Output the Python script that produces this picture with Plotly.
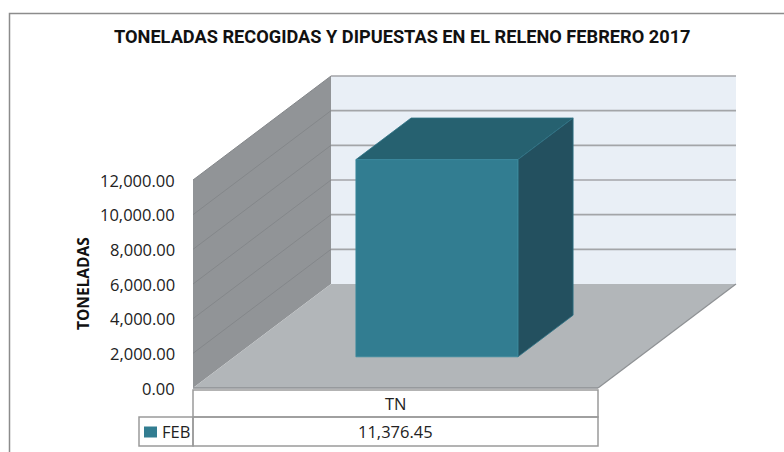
import plotly.graph_objects as go

# ---------------- data ----------------
categories = ["TN"]
series_name = "FEB"
values = [11376.45]
y_ticks = [0, 2000, 4000, 6000, 8000, 10000, 12000]
y_tick_labels = ["0.00", "2,000.00", "4,000.00", "6,000.00", "8,000.00", "10,000.00", "12,000.00"]
title_text = "TONELADAS RECOGIDAS Y DIPUESTAS EN EL RELENO FEBRERO 2017"
y_title = "TONELADAS"
value_labels = ["11,376.45"]

# ---------------- layout constants ----------------
W, H = 784, 452
X0_PX, PX_PER_CAT = 193, 405          # front-left floor corner, width of one category
Y0_PX, PX_PER_12K = 388, 208          # front zero line, height of 12000
VMAX = 12000
DEPTH_X = 138 / PX_PER_CAT            # oblique offset (in category units) for full depth
DEPTH_Y = 104 / PX_PER_12K * VMAX     # oblique offset (in value units) for full depth

ncat = len(categories)

def proj(u, v, d):
    return u + d * DEPTH_X, v + d * DEPTH_Y

xr = [-X0_PX / PX_PER_CAT, (W - X0_PX) / PX_PER_CAT]
yr = [-(H - Y0_PX) / PX_PER_12K * VMAX, Y0_PX / PX_PER_12K * VMAX]

fig = go.Figure()

def poly(pts, fill, line_color=None, lw=0):
    xs = [p[0] for p in pts] + [pts[0][0]]
    ys = [p[1] for p in pts] + [pts[0][1]]
    fig.add_trace(go.Scatter(x=xs, y=ys, mode="lines", fill="toself", fillcolor=fill,
                             line=dict(color=line_color or fill, width=lw),
                             hoverinfo="skip", showlegend=False))

def seg(a, b, color, lw=1):
    fig.add_trace(go.Scatter(x=[a[0], b[0]], y=[a[1], b[1]], mode="lines",
                             line=dict(color=color, width=lw), hoverinfo="skip", showlegend=False))

top = max(y_ticks)
# back wall
poly([proj(0, 0, 1), proj(ncat, 0, 1), proj(ncat, top, 1), proj(0, top, 1)], "#E9EFF6")
# left wall
poly([proj(0, 0, 0), proj(0, 0, 1), proj(0, top, 1), proj(0, top, 0)], "#919497")
# floor
poly([proj(0, 0, 0), proj(ncat, 0, 0), proj(ncat, 0, 1), proj(0, 0, 1)], "#B2B6B9")
seg(proj(ncat, 0, 0), proj(ncat, 0, 1), "#8E9194", 1.2)
seg(proj(0, 0, 0), proj(ncat, 0, 0), "#8E9194", 1.5)

# gridlines
for t in y_ticks[1:]:
    seg(proj(0, t, 1), proj(ncat, t, 1), "#A3A5A8", 1.6)
    seg(proj(0, t, 0), proj(0, t, 1), "#84878A", 1)

# bars
bw0, bw1 = 0.3, 0.7
bd0, bd1 = 0.3, 0.7
for i, val in enumerate(values):
    u0, u1 = i + bw0, i + bw1
    poly([proj(u0, val, bd0), proj(u1, val, bd0), proj(u1, val, bd1), proj(u0, val, bd1)],
         "#266170", "#2E7487", 0.8)
    poly([proj(u1, 0, bd0), proj(u1, 0, bd1), proj(u1, val, bd1), proj(u1, val, bd0)],
         "#23505F", "#2E7487", 0.8)
    poly([proj(u0, 0, bd0), proj(u1, 0, bd0), proj(u1, val, bd0), proj(u0, val, bd0)],
         "#327D91", "#3A8A9E", 0.8)

FONT = "Open Sans"
FS = 16.5
annotations = []
for t, lab in zip(y_ticks, y_tick_labels):
    annotations.append(dict(x=0, y=t, xref="x", yref="y", text=lab, showarrow=False,
                            xanchor="right", yanchor="middle", xshift=-16,
                            font=dict(family=FONT, size=FS, color="#222")))

def py(p):  # pixel row -> paper fraction
    return 1 - p / H

def px(p):
    return p / W

annotations.append(dict(x=px(402), y=py(37), xref="paper", yref="paper", text="<b>" + title_text + "</b>",
                        showarrow=False, xanchor="center", yanchor="middle",
                        font=dict(family="Roboto", size=18.2, color="#111")))
annotations.append(dict(x=px(83), y=py(284), xref="paper", yref="paper", text="<b>" + y_title + "</b>",
                        showarrow=False, textangle=-90, xanchor="center", yanchor="middle",
                        font=dict(family=FONT, size=15.5, color="#111")))

# data table
shapes = []
r0, r1, r2 = py(390), py(417), py(446)
tcol = "#9A9A9A"
shapes.append(dict(type="rect", xref="x", yref="paper", x0=0, x1=ncat, y0=r1, y1=r0,
                   line=dict(color=tcol, width=1.5)))
shapes.append(dict(type="rect", xref="x", yref="paper", x0=0, x1=ncat, y0=r2, y1=r1,
                   line=dict(color=tcol, width=1.5)))
shapes.append(dict(type="rect", xref="paper", yref="paper", x0=px(139), x1=px(193), y0=r2, y1=r1,
                   line=dict(color=tcol, width=1.5)))
shapes.append(dict(type="rect", xref="paper", yref="paper", x0=px(144), x1=px(157), y0=py(437.5), y1=py(426.5),
                   fillcolor="#327D91", line=dict(width=0)))
# chart frame
shapes.append(dict(type="path", xref="paper", yref="paper",
                   path=f"M {px(9.5)} 0 L {px(9.5)} {py(13.5)} L 1 {py(13.5)}",
                   line=dict(color="#8C8C8C", width=1.5)))

for i, c in enumerate(categories):
    annotations.append(dict(x=i + 0.5, y=(r0 + r1) / 2, xref="x", yref="paper", text=c, showarrow=False,
                            xanchor="center", yanchor="middle", font=dict(family=FONT, size=FS, color="#222")))
    annotations.append(dict(x=i + 0.5, y=(r1 + r2) / 2, xref="x", yref="paper", text=value_labels[i],
                            showarrow=False, xanchor="center", yanchor="middle",
                            font=dict(family=FONT, size=FS, color="#222")))
annotations.append(dict(x=px(160), y=(r1 + r2) / 2, xref="paper", yref="paper", text=series_name,
                        showarrow=False, xanchor="left", yanchor="middle",
                        font=dict(family=FONT, size=FS, color="#222")))

fig.update_layout(
    width=W, height=H, margin=dict(l=0, r=0, t=0, b=0),
    paper_bgcolor="white", plot_bgcolor="white",
    xaxis=dict(range=xr, visible=False, fixedrange=True),
    yaxis=dict(range=yr, visible=False, fixedrange=True),
    annotations=annotations, shapes=shapes, showlegend=False,
)
fig.write_html("out.html", config={"displayModeBar": False},
               post_script="document.body.style.margin='0px';document.body.style.overflow='hidden';")
